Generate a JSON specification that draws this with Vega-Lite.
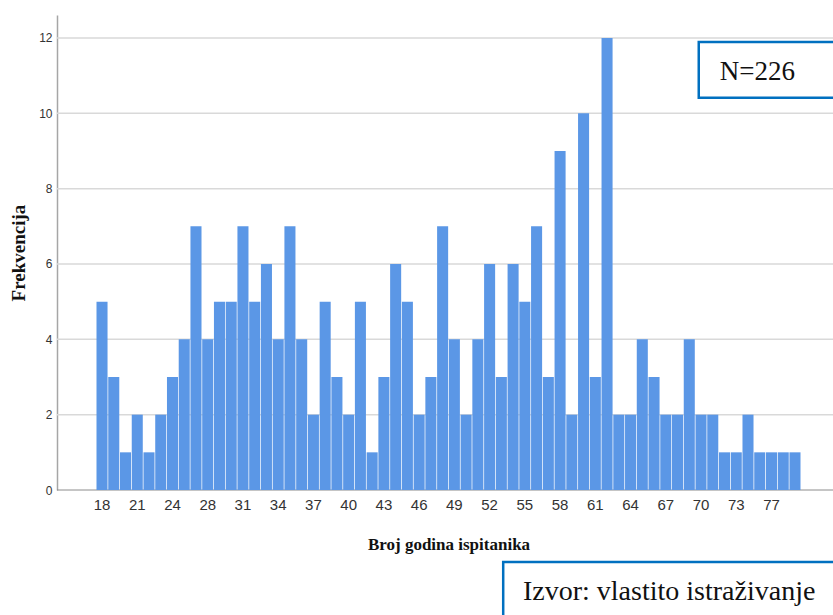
{
  "$schema": "https://vega.github.io/schema/vega-lite/v6.json",
  "autosize": {"type": "none"},
  "width": 776,
  "height": 475,
  "padding": {"left": 57, "top": 15, "right": 0, "bottom": 125},
  "background": "white",
  "config": {"view": {"stroke": null}},
  "datasets": {
    "ages": [
      {"age": 18, "count": 5}, {"age": 19, "count": 3}, {"age": 20, "count": 1}, {"age": 21, "count": 2},
      {"age": 22, "count": 1}, {"age": 23, "count": 2}, {"age": 24, "count": 3}, {"age": 25, "count": 4},
      {"age": 26, "count": 7}, {"age": 28, "count": 4}, {"age": 29, "count": 5}, {"age": 30, "count": 5},
      {"age": 31, "count": 7}, {"age": 32, "count": 5}, {"age": 33, "count": 6}, {"age": 34, "count": 4},
      {"age": 35, "count": 7}, {"age": 36, "count": 4}, {"age": 37, "count": 2}, {"age": 38, "count": 5},
      {"age": 39, "count": 3}, {"age": 40, "count": 2}, {"age": 41, "count": 5}, {"age": 42, "count": 1},
      {"age": 43, "count": 3}, {"age": 44, "count": 6}, {"age": 45, "count": 5}, {"age": 46, "count": 2},
      {"age": 47, "count": 3}, {"age": 48, "count": 7}, {"age": 49, "count": 4}, {"age": 50, "count": 2},
      {"age": 51, "count": 4}, {"age": 52, "count": 6}, {"age": 53, "count": 3}, {"age": 54, "count": 6},
      {"age": 55, "count": 5}, {"age": 56, "count": 7}, {"age": 57, "count": 3}, {"age": 58, "count": 9},
      {"age": 59, "count": 2}, {"age": 60, "count": 10}, {"age": 61, "count": 3}, {"age": 62, "count": 12},
      {"age": 63, "count": 2}, {"age": 64, "count": 2}, {"age": 65, "count": 4}, {"age": 66, "count": 3},
      {"age": 67, "count": 2}, {"age": 68, "count": 2}, {"age": 69, "count": 4}, {"age": 70, "count": 2},
      {"age": 71, "count": 2}, {"age": 72, "count": 1}, {"age": 73, "count": 1}, {"age": 74, "count": 2},
      {"age": 75, "count": 1}, {"age": 77, "count": 1}, {"age": 78, "count": 1}, {"age": 79, "count": 1}
    ],
    "notes": [
      {"label": "N=226"},
      {"label": "Izvor: vlastito istraživanje"}
    ]
  },
  "resolve": {"scale": {"x": "independent"}},
  "layer": [
    {
      "data": {"name": "notes"},
      "transform": [{"filter": "datum.label === 'N=226'"}],
      "encoding": {
        "x": {"datum": 0, "type": "quantitative", "scale": {"domain": [0, 1], "nice": false, "zero": false}, "axis": null},
        "x2": {"datum": 1.1}
      },
      "layer": [
        {"mark": {"type": "rule", "color": "#d9d9d9", "strokeWidth": 1.5}, "encoding": {"y": {"datum": 2, "type": "quantitative"}}},
        {"mark": {"type": "rule", "color": "#d9d9d9", "strokeWidth": 1.5}, "encoding": {"y": {"datum": 4, "type": "quantitative"}}},
        {"mark": {"type": "rule", "color": "#d9d9d9", "strokeWidth": 1.5}, "encoding": {"y": {"datum": 6, "type": "quantitative"}}},
        {"mark": {"type": "rule", "color": "#d9d9d9", "strokeWidth": 1.5}, "encoding": {"y": {"datum": 8, "type": "quantitative"}}},
        {"mark": {"type": "rule", "color": "#d9d9d9", "strokeWidth": 1.5}, "encoding": {"y": {"datum": 10, "type": "quantitative"}}},
        {"mark": {"type": "rule", "color": "#d9d9d9", "strokeWidth": 1.5}, "encoding": {"y": {"datum": 12, "type": "quantitative"}}},
        {"mark": {"type": "rule", "color": "#8c8c8c", "strokeWidth": 1}, "encoding": {"y": {"datum": 0, "type": "quantitative"}}}
      ]
    },
    {
      "data": {"name": "ages"},
      "mark": {"type": "bar", "color": "#5B97E6"},
      "encoding": {
        "x": {
          "field": "age",
          "type": "ordinal",
          "scale": {"range": [39.5, 743.5], "paddingInner": 0.06, "paddingOuter": 0},
          "axis": {
            "title": "Broj godina ispitanika",
            "values": [18, 21, 24, 28, 31, 34, 37, 40, 43, 46, 49, 52, 55, 58, 61, 64, 67, 70, 73, 77],
            "labelAngle": 0,
            "labelFont": "Liberation Sans Narrow, Liberation Sans",
            "labelFontSize": 15,
            "labelColor": "#333333",
            "labelPadding": 7,
            "ticks": false,
            "grid": false,
            "domain": false,
            "titleFont": "Liberation Serif",
            "titleFontSize": 17,
            "titleFontWeight": "bold",
            "titleColor": "#111111",
            "titlePadding": 24
          }
        },
        "y": {
          "field": "count",
          "type": "quantitative",
          "scale": {"domain": [0, 12.61], "nice": false, "zero": true},
          "axis": {
            "title": "Frekvencija",
            "values": [0, 2, 4, 6, 8, 10, 12],
            "labelFont": "Liberation Sans Narrow, Liberation Sans",
            "labelFontSize": 12,
            "labelColor": "#333333",
            "labelPadding": 5,
            "ticks": false,
            "grid": false,
            "domainColor": "#a6a6a6",
            "domainWidth": 1.5,
            "titleFont": "Liberation Serif",
            "titleFontSize": 19,
            "titleFontWeight": "bold",
            "titleColor": "#111111",
            "titlePadding": 10
          }
        }
      }
    },
    {
      "data": {"name": "notes"},
      "layer": [
        {
          "transform": [{"filter": "datum.label === 'N=226'"}],
          "mark": {"type": "rect", "fill": "white", "stroke": "#0070C0", "strokeWidth": 2.5},
          "encoding": {
            "x": {"datum": 0.827, "type": "quantitative", "scale": {"domain": [0, 1], "nice": false, "zero": false}, "axis": null},
            "x2": {"datum": 1.1},
            "y": {"datum": 11.89, "type": "quantitative"},
            "y2": {"datum": 10.41}
          }
        },
        {
          "transform": [{"filter": "datum.label === 'N=226'"}],
          "mark": {"type": "text", "align": "left", "baseline": "alphabetic", "font": "Liberation Serif", "fontSize": 27, "color": "#111111"},
          "encoding": {
            "x": {"datum": 0.854, "type": "quantitative"},
            "y": {"datum": 10.88, "type": "quantitative"},
            "text": {"field": "label"}
          }
        },
        {
          "transform": [{"filter": "datum.label !== 'N=226'"}],
          "mark": {"type": "rect", "fill": "white", "stroke": "#0070C0", "strokeWidth": 2.5},
          "encoding": {
            "x": {"datum": 0.575, "type": "quantitative"},
            "x2": {"datum": 1.1},
            "y": {"datum": -1.91, "type": "quantitative"},
            "y2": {"datum": -3.8}
          }
        },
        {
          "transform": [{"filter": "datum.label !== 'N=226'"}],
          "mark": {"type": "text", "align": "left", "baseline": "alphabetic", "font": "Liberation Serif", "fontSize": 28, "color": "#111111"},
          "encoding": {
            "x": {"datum": 0.6005, "type": "quantitative"},
            "y": {"datum": -2.92, "type": "quantitative"},
            "text": {"field": "label"}
          }
        }
      ]
    }
  ]
}
